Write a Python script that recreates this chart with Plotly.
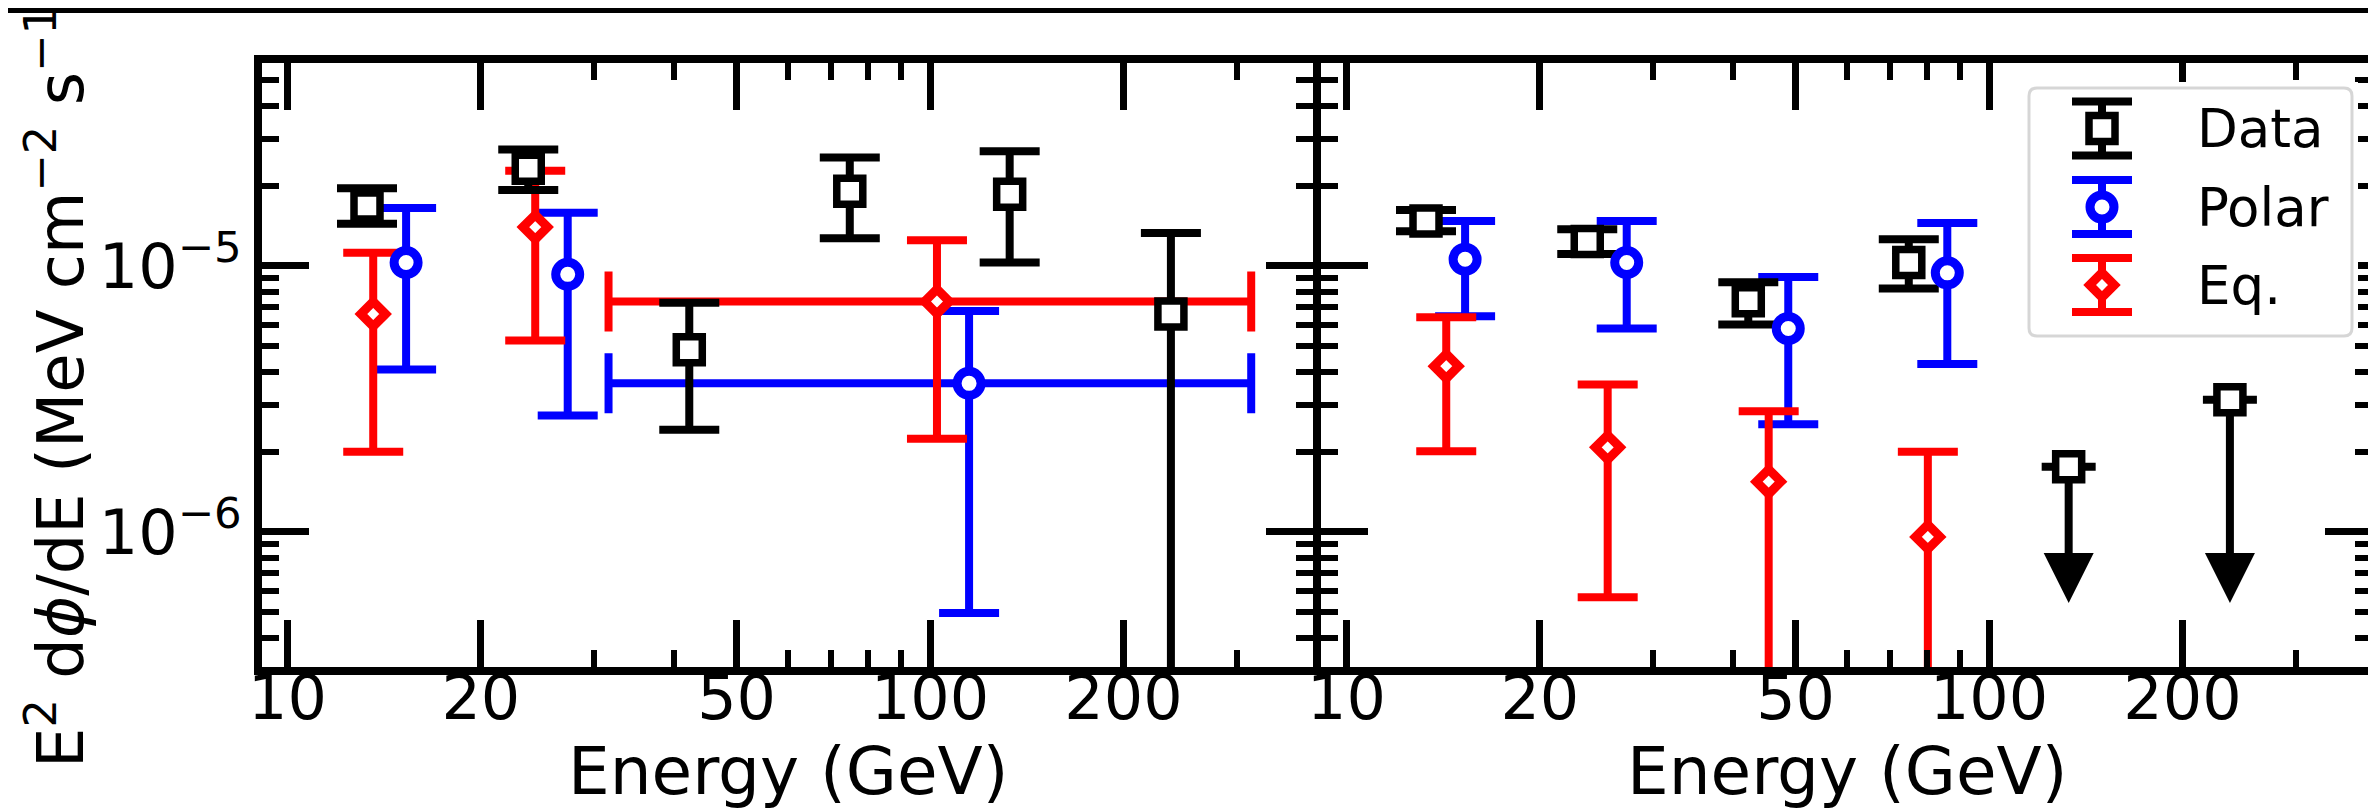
import math
import plotly.graph_objects as go

FONT = "DejaVu Sans"
BLACK, BLUE, RED = "#000000", "#0000ff", "#ff0000"

# ---------------- data ----------------
L_data_E = [13.3, 23.7, 42.2, 75.0, 133.0, 237.0]
L_data_F = [1.68e-5, 2.33e-5, 4.84e-6, 1.91e-5, 1.86e-5, 6.6e-6]
L_data_hi = [1.96e-5, 2.74e-5, 7.27e-6, 2.56e-5, 2.70e-5, 1.33e-5]
L_data_lo = [1.44e-5, 1.93e-5, 2.42e-6, 1.27e-5, 1.03e-5, 0.0]

L_polar_E = [15.3, 27.3]
L_polar_F = [1.03e-5, 9.3e-6]
L_polar_hi = [1.65e-5, 1.585e-5]
L_polar_lo = [4.08e-6, 2.74e-6]

L_polar_wide_E = [115.0]
L_polar_wide_F = [3.62e-6]
L_polar_wide_hi = [6.77e-6]
L_polar_wide_lo = [4.96e-7]
L_polar_wide_Elo = [31.6]
L_polar_wide_Ehi = [316.0]

L_eq_E = [13.6, 24.3]
L_eq_F = [6.6e-6, 1.40e-5]
L_eq_hi = [1.12e-5, 2.28e-5]
L_eq_lo = [2.0e-6, 5.25e-6]

L_eq_wide_E = [102.5]
L_eq_wide_F = [7.35e-6]
L_eq_wide_hi = [1.25e-5]
L_eq_wide_lo = [2.24e-6]
L_eq_wide_Elo = [31.6]
L_eq_wide_Ehi = [316.0]

R_data_E = [13.3, 23.7, 42.2, 75.0]
R_data_F = [1.476e-5, 1.237e-5, 7.40e-6, 1.03e-5]
R_data_hi = [1.625e-5, 1.375e-5, 8.68e-6, 1.26e-5]
R_data_lo = [1.35e-5, 1.11e-5, 6.03e-6, 8.23e-6]

R_polar_E = [15.3, 27.3, 48.7, 86.1]
R_polar_F = [1.06e-5, 1.03e-5, 5.82e-6, 9.42e-6]
R_polar_hi = [1.476e-5, 1.476e-5, 9.09e-6, 1.45e-5]
R_polar_lo = [6.47e-6, 5.82e-6, 2.54e-6, 4.28e-6]

R_eq_E = [14.3, 25.5, 45.4, 80.3]
R_eq_F = [4.20e-6, 2.08e-6, 1.545e-6, 9.58e-7]
R_eq_hi = [6.42e-6, 3.58e-6, 2.84e-6, 2.0e-6]
R_eq_lo = [2.01e-6, 5.68e-7, 0.0, 0.0]

R_ul_E = [133.0, 237.0]
R_ul_F = [1.76e-6, 3.14e-6]
R_ul_base = [8.0e-7, 8.0e-7]
R_ul_tip = [5.4e-7, 5.4e-7]

x_major = [10, 20, 50, 100, 200]
x_major_text = ["10", "20", "50", "100", "200"]
x_minor = [30, 40, 60, 70, 80, 90, 300]
y_major = [1e-6, 1e-5]
y_major_text = ["10<sup>\u22126</sup>", "10<sup>\u22125</sup>"]
y_minor = [3e-7, 4e-7, 5e-7, 6e-7, 7e-7, 8e-7, 9e-7,
           2e-6, 3e-6, 4e-6, 5e-6, 6e-6, 7e-6, 8e-6, 9e-6,
           2e-5, 3e-5, 4e-5, 5e-5]

legend_names = ["Data", "Polar", "Eq."]
x_title = "Energy (GeV)"
y_title = "E<sup>2</sup> d<i>\u03d5</i>/dE (MeV cm<sup>\u22122</sup> s<sup>\u22121</sup>)"

# ---------------- geometry ----------------
W, H = 2376, 808
LW = 8
half = LW / 2
SPX_L, SPX_M, SPX_R = 250, 1309, 2368
SPY_T, SPY_B = 51, 663
pl, pr = SPX_L + half, SPX_R - half
pt, pb = SPY_T + half, SPY_B - half
PW, PH = pr - pl, pb - pt

XMIN, XMAX = 9.0, 400.0
YMIN, YMAX = 3e-7, 6e-5


def px2px_x(px):
    return (px - pl) / PW


def px2py(py):
    return (pb - py) / PH


def inner_range(lo, hi, span_px):
    a, b = math.log10(lo), math.log10(hi)
    pp = (b - a) / span_px
    return [a + half * pp, b - half * pp]


xr = inner_range(XMIN, XMAX, SPX_M - SPX_L)
yr = inner_range(YMIN, YMAX, SPY_B - SPY_T)

dom1 = [0, (SPX_M - half - pl) / PW]
dom2 = [(SPX_M + half - pl) / PW, 1]

ERR_T = 8
CAP = 30

SYM = {
    "Data": dict(symbol="square", size=26, color="white", line=dict(color=BLACK, width=7.5)),
    "Polar": dict(symbol="circle", size=24, color="white", line=dict(color=BLUE, width=9)),
    "Eq.": dict(symbol="diamond", size=19, color="white", line=dict(color=RED, width=9)),
}
COL = {"Data": BLACK, "Polar": BLUE, "Eq.": RED}

fig = go.Figure()


def plus(F, hi):
    return [h - f for f, h in zip(F, hi)]


def minus(F, lo):
    return [f - l for f, l in zip(F, lo)]


def err_trace(E, F, hi, lo, name, xa, ya, Elo=None, Ehi=None):
    kw = {}
    if Elo is not None:
        kw["error_x"] = dict(type="data", symmetric=False,
                             array=[h - e for e, h in zip(E, Ehi)],
                             arrayminus=[e - l for e, l in zip(E, Elo)],
                             color=COL[name], thickness=ERR_T, width=CAP)
    fig.add_trace(go.Scatter(
        x=E, y=F, mode="markers", xaxis=xa, yaxis=ya, showlegend=False,
        marker=dict(size=1, opacity=0),
        error_y=dict(type="data", symmetric=False, array=plus(F, hi),
                     arrayminus=minus(F, lo), color=COL[name],
                     thickness=ERR_T, width=CAP),
        hoverinfo="skip", **kw))


def mark_trace(E, F, name, xa, ya):
    fig.add_trace(go.Scatter(x=E, y=F, mode="markers", xaxis=xa, yaxis=ya,
                             showlegend=False, marker=SYM[name], name=name))


# error bars first (Polar, Eq, Data), markers drawn on top of all bars
err_trace(L_polar_E, L_polar_F, L_polar_hi, L_polar_lo, "Polar", "x", "y")
err_trace(L_polar_wide_E, L_polar_wide_F, L_polar_wide_hi, L_polar_wide_lo, "Polar", "x", "y",
          L_polar_wide_Elo, L_polar_wide_Ehi)
err_trace(L_eq_E, L_eq_F, L_eq_hi, L_eq_lo, "Eq.", "x", "y")
err_trace(L_eq_wide_E, L_eq_wide_F, L_eq_wide_hi, L_eq_wide_lo, "Eq.", "x", "y",
          L_eq_wide_Elo, L_eq_wide_Ehi)
err_trace(L_data_E, L_data_F, L_data_hi, L_data_lo, "Data", "x", "y")

err_trace(R_polar_E, R_polar_F, R_polar_hi, R_polar_lo, "Polar", "x2", "y2")
err_trace(R_eq_E, R_eq_F, R_eq_hi, R_eq_lo, "Eq.", "x2", "y2")
err_trace(R_data_E, R_data_F, R_data_hi, R_data_lo, "Data", "x2", "y2")

# upper limits: stem, cap at the value, arrow head
fig.add_trace(go.Scatter(
    x=R_ul_E, y=R_ul_F, mode="markers", xaxis="x2", yaxis="y2", showlegend=False,
    marker=dict(size=1, opacity=0), hoverinfo="skip",
    error_y=dict(type="data", symmetric=False, array=[0 for _ in R_ul_F],
                 arrayminus=[f - b for f, b in zip(R_ul_F, R_ul_base)],
                 color=BLACK, thickness=ERR_T, width=0)))
fig.add_trace(go.Scatter(
    x=R_ul_E, y=R_ul_F, mode="markers", xaxis="x2", yaxis="y2", showlegend=False,
    marker=dict(size=1, opacity=0), hoverinfo="skip",
    error_y=dict(type="data", symmetric=True, array=[0 for _ in R_ul_F],
                 color=BLACK, thickness=ERR_T, width=27)))
fig.add_trace(go.Scatter(
    x=R_ul_E, y=R_ul_tip, mode="markers", xaxis="x2", yaxis="y2", showlegend=False,
    marker=dict(symbol="arrow-down", size=50, color=BLACK, line=dict(width=0))))

mark_trace(L_data_E, L_data_F, "Data", "x", "y")
mark_trace(L_polar_E + L_polar_wide_E, L_polar_F + L_polar_wide_F, "Polar", "x", "y")
mark_trace(L_eq_E + L_eq_wide_E, L_eq_F + L_eq_wide_F, "Eq.", "x", "y")
mark_trace(R_data_E, R_data_F, "Data", "x2", "y2")
mark_trace(R_polar_E, R_polar_F, "Polar", "x2", "y2")
mark_trace(R_eq_E, R_eq_F, "Eq.", "x2", "y2")
mark_trace(R_ul_E, R_ul_F, "Data", "x2", "y2")

# ---------------- custom legend (matplotlib style, error-bar glyphs) ----------------
LEG_X0, LEG_X1, LEG_Y0, LEG_Y1 = 2021, 2344, 80, 328
PADL = 6
lw_, lh_ = LEG_X1 - LEG_X0, LEG_Y1 - LEG_Y0
leg_rows = [40.5, 119.0, 197.0]
leg_sym_x = 73
leg_txt_x = 166
leg_err = 27

for nm, yy in zip(legend_names, leg_rows):
    fig.add_trace(go.Scatter(
        x=[leg_sym_x], y=[yy], mode="markers", xaxis="x3", yaxis="y3", showlegend=False,
        marker=SYM[nm], hoverinfo="skip",
        error_y=dict(type="constant", value=leg_err, color=COL[nm], thickness=ERR_T, width=CAP)))
    fig.add_annotation(x=leg_txt_x, y=yy, xref="x3", yref="y3", text=nm, showarrow=False,
                       xanchor="left", yanchor="middle",
                       font=dict(family=FONT, size=53, color="black"))

r = 8
box = (f"M {r},0 L {lw_ - r},0 Q {lw_},0 {lw_},{r} L {lw_},{lh_ - r} Q {lw_},{lh_} {lw_ - r},{lh_} "
       f"L {r},{lh_} Q 0,{lh_} 0,{lh_ - r} L 0,{r} Q 0,0 {r},0 Z")
fig.add_shape(type="path", path=box, xref="x3", yref="y3", layer="below",
              fillcolor="rgba(255,255,255,0.8)", line=dict(color="rgba(204,204,204,0.8)", width=3))

# thin black band along the very top of the image
fig.add_shape(type="rect", xref="paper", yref="paper", x0=-0.2, x1=1.05,
              y0=px2py(5), y1=px2py(-10), fillcolor="black", line=dict(width=0),
              layer="above")

# axis titles
for c in [(SPX_L + SPX_M) / 2, (SPX_M + SPX_R) / 2]:
    fig.add_annotation(x=px2px_x(c), y=px2py(763), xref="paper", yref="paper",
                       text=x_title, showarrow=False, xanchor="center", yanchor="middle",
                       font=dict(family=FONT, size=66, color="black"))
fig.add_annotation(x=px2px_x(92), y=px2py(367), xref="paper", yref="paper",
                   text=y_title, showarrow=False, textangle=-90,
                   xanchor="right", yanchor="middle",
                   font=dict(family=FONT, size=64, color="black"))

# ---------------- axes ----------------
tickfont = dict(family=FONT, size=62, color="black")


def xcfg(domain, anchor):
    return dict(type="log", range=xr, domain=domain, anchor=anchor,
                showline=True, linewidth=LW, linecolor="black", mirror="ticks",
                ticks="inside", ticklen=47, tickwidth=7, tickcolor="black",
                tickmode="array", tickvals=x_major, ticktext=x_major_text,
                tickfont=tickfont, ticklabelstandoff=-30,
                minor=dict(tickmode="array", tickvals=x_minor, ticks="inside", ticklen=17,
                           tickwidth=6, tickcolor="black", showgrid=False),
                showgrid=False, zeroline=False, automargin=False)


def ycfg(anchor, labels):
    return dict(type="log", range=yr, domain=[0, 1], anchor=anchor,
                showline=True, linewidth=LW, linecolor="black", mirror="ticks",
                ticks="inside", ticklen=47, tickwidth=7, tickcolor="black",
                tickmode="array", tickvals=y_major, ticktext=y_major_text,
                tickfont=tickfont, showticklabels=labels, ticklabelstandoff=0,
                minor=dict(tickmode="array", tickvals=y_minor, ticks="inside", ticklen=17,
                           tickwidth=6, tickcolor="black", showgrid=False),
                showgrid=False, zeroline=False, automargin=False)


fig.update_layout(
    width=W, height=H, template="none",
    paper_bgcolor="white", plot_bgcolor="white",
    margin=dict(l=pl, r=W - pr, t=pt, b=H - pb, pad=0),
    font=dict(family=FONT, color="black"),
    showlegend=False,
    xaxis=xcfg(dom1, "y"),
    yaxis=ycfg("x", True),
    xaxis2=xcfg(dom2, "y2"),
    yaxis2=ycfg("x2", False),
    xaxis3=dict(domain=[(LEG_X0 - PADL - pl) / PW, (LEG_X1 + PADL - pl) / PW],
                range=[-PADL, lw_ + PADL], anchor="y3", visible=False, fixedrange=True),
    yaxis3=dict(domain=[(pb - LEG_Y1 - PADL) / PH, (pb - LEG_Y0 + PADL) / PH],
                range=[lh_ + PADL, -PADL], anchor="x3", visible=False, fixedrange=True),
)

fig.write_html("out.html")
